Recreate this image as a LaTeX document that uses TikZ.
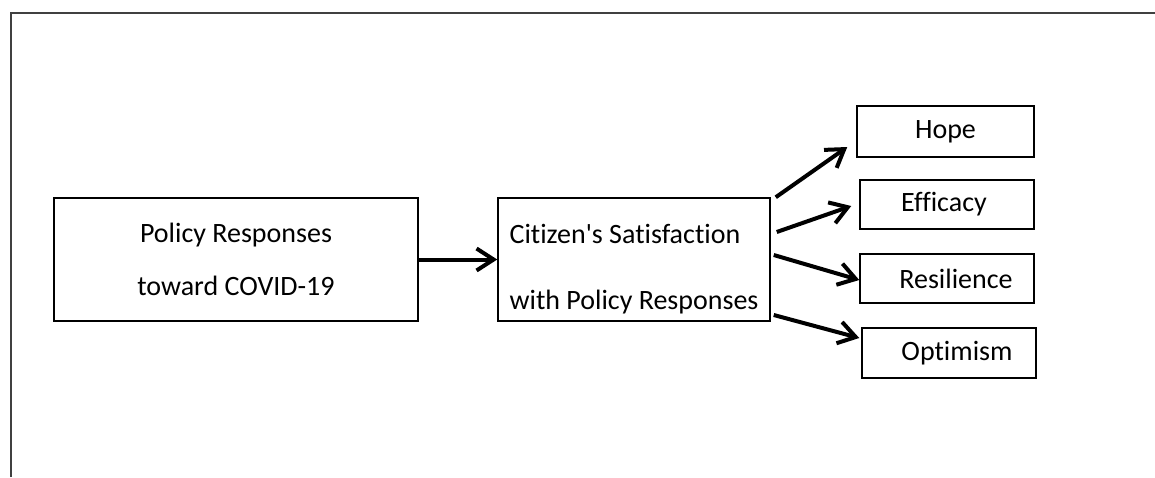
\documentclass[tikz,border=0pt]{standalone}
\usepackage{fontspec}
\setmainfont{Carlito}[Ligatures={TeXOff,NoCommon}]
\usepackage{xcolor}
\definecolor{framegray}{HTML}{404040}
\usetikzlibrary{arrows.meta}

\tikzset{
  box/.style={draw=black, line width=1.5pt, inner sep=0pt,
    font=\fontsize{28}{53}\selectfont, align=center},
  link/.style={line width=4pt, -{Straight Barb[length=17pt,width=22pt,line width=4pt]}}
}

\begin{document}
\begin{tikzpicture}[x=1pt, y=-1pt]
            \useasboundingbox (0, 0) rectangle (1155, 477);
            \draw[framegray, line width=2.5pt] (11, 477) -- (11, 13) -- (1155, 13);

            \node (policy) at (236, 259.5) [box, minimum width=364pt, minimum height=123pt]
                {Policy Responses\\toward COVID-19};
            \node (satis) at (634, 259.5) [box, minimum width=272pt, minimum height=123pt,
                label={[font=\fontsize{28}{66}\selectfont, align=left, yshift=-10pt]center:{Citizen's Satisfaction\\with Policy Responses}}] {};

            \node (hope) at (945.5, 131.5) [box, minimum width=177pt, minimum height=51pt] {Hope};
            \node (efficacy) at (947, 204.5) [box, minimum width=174pt, minimum height=49pt] {\hspace*{-6pt}Efficacy};
            \node (resilience) at (947, 278.5) [box, minimum width=174pt, minimum height=49pt] {\hspace*{18pt}Resilience};
            \node (optimism) at (949, 353) [box, minimum width=174pt, minimum height=50pt] {\hspace*{16pt}Optimism};

            \draw[link] (policy.east) to (satis.west);

            \draw[link] ([xshift=5pt]satis.north east) to ([xshift=-9pt, yshift=-15.5pt]hope.west);
            \draw[link] ([xshift=6pt, yshift=27.5pt]satis.east) to ([xshift=-8pt, yshift=-1.5pt]efficacy.west);
            \draw[link] ([xshift=3pt, yshift=4.5pt]satis.east) to ([yshift=-1.5pt]resilience.west);
            \draw[link] ([xshift=3pt, yshift=-55.5pt]satis.east) to ([xshift=-2pt, yshift=15pt]optimism.west);
        \end{tikzpicture}
\end{document}
